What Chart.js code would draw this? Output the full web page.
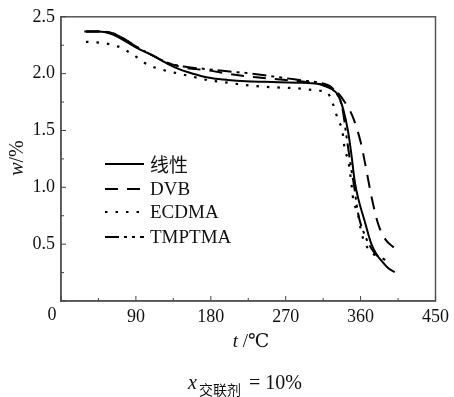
<!DOCTYPE html>
<html>
<head>
<meta charset="utf-8">
<script src="https://cdn.jsdelivr.net/npm/chart.js@4"></script>
<style>
  body { margin: 0; background: #fff; }
  #wrap { width: 454px; height: 397px; }
</style>
</head>
<body>
<div id="wrap"><canvas id="tg-chart" width="454" height="397"></canvas></div>
<script>
// Series: temperature (°C) and w (%)
const linearT = [28, 45, 60, 74, 90, 110, 130, 142, 154, 168, 182, 200, 222, 245, 261, 285, 301, 312, 321, 328, 333, 339, 345, 349, 353, 357, 365, 373, 380, 385, 393, 401];
const linearW = [2.37, 2.37, 2.35, 2.30, 2.23, 2.16, 2.08, 2.04, 2.01, 1.98, 1.96, 1.945, 1.933, 1.928, 1.925, 1.92, 1.916, 1.905, 1.88, 1.85, 1.81, 1.69, 1.49, 1.285, 1.05, 0.907, 0.70, 0.50, 0.40, 0.355, 0.29, 0.253];

const dvbT = [30, 45, 60, 75, 90, 110, 130, 150, 175, 200, 230, 260, 290, 315, 330, 340, 350, 360, 367, 373, 381, 390, 400];
const dvbW = [2.37, 2.37, 2.36, 2.31, 2.24, 2.16, 2.09, 2.05, 2.03, 2.00, 1.97, 1.95, 1.93, 1.90, 1.85, 1.76, 1.63, 1.40, 1.15, 0.92, 0.68, 0.54, 0.47];

const ecdmaT = [30, 49, 68, 86, 104, 124, 142, 160, 178, 196, 216, 235, 255, 273, 291, 309, 319, 327, 333, 338, 341, 345, 349, 351, 357, 361, 369, 378, 386];
const ecdmaW = [2.28, 2.27, 2.24, 2.17, 2.08, 2.03, 2.00, 1.97, 1.94, 1.925, 1.905, 1.89, 1.88, 1.875, 1.866, 1.85, 1.84, 1.73, 1.59, 1.50, 1.33, 1.24, 1.03, 0.90, 0.76, 0.60, 0.46, 0.40, 0.37];

const tmptmaT = [30, 45, 60, 75, 90, 110, 130, 150, 175, 200, 230, 260, 290, 310, 325, 333, 338, 343, 348, 352, 357, 365, 377, 390];
const tmptmaW = [2.37, 2.37, 2.36, 2.31, 2.24, 2.16, 2.09, 2.06, 2.04, 2.02, 2.00, 1.97, 1.94, 1.92, 1.88, 1.80, 1.70, 1.45, 1.20, 1.02, 0.77, 0.58, 0.42, 0.36];

const seriesNames = ['线性', 'DVB', 'ECDMA', 'TMPTMA'];
const xTicks = [0, 90, 180, 270, 360, 450];
const yTicks = [0.5, 1.0, 1.5, 2.0, 2.5];

const serif = '"Liberation Serif", "DejaVu Serif", "Noto Sans CJK SC", serif';
const cjk = '"Noto Sans CJK SC", "Liberation Serif", serif';

function toPoints(ts, ws) {
    return ts.map((t, i) => ({ x: t, y: ws[i] }));
}

// Inward tick marks, plot frame, legend and titles
const decorPlugin = {
    id: 'decor',
    afterDraw(chart) {
        const ctx = chart.ctx;
        const a = chart.chartArea;
        const xs = chart.scales.x;
        const ys = chart.scales.y;
        ctx.save();

        // frame
        ctx.strokeStyle = '#555';
        ctx.lineWidth = 1.5;
        ctx.strokeRect(a.left, a.top, a.right - a.left, a.bottom - a.top);

        // ticks pointing into the plot
        ctx.lineWidth = 1;
        ctx.strokeStyle = '#444';
        xs.ticks.forEach(t => {
            const px = xs.getPixelForValue(t.value);
            const len = t.value % 90 === 0 ? 5 : 3;
            ctx.beginPath();
            ctx.moveTo(px, a.bottom);
            ctx.lineTo(px, a.bottom - len);
            ctx.stroke();
        });
        ys.ticks.forEach(t => {
            const py = ys.getPixelForValue(t.value);
            const major = Math.abs(t.value * 2 - Math.round(t.value * 2)) < 1e-6;
            ctx.beginPath();
            ctx.moveTo(a.left, py);
            ctx.lineTo(a.left + (major ? 5 : 3), py);
            ctx.stroke();
        });

        // "0" label on x axis, shifted left of the corner
        ctx.fillStyle = '#111';
        ctx.font = '18px ' + serif;
        ctx.textAlign = 'center';
        ctx.textBaseline = 'top';
        ctx.fillText(String(xTicks[0]), xs.getPixelForValue(xTicks[0]) - 9, 306);

        // legend
        const rows = [164, 189, 212, 237];
        chart.data.datasets.forEach((ds, i) => {
            ctx.strokeStyle = '#000';
            ctx.lineWidth = 2.2;
            ctx.setLineDash(ds.borderDash || []);
            ctx.beginPath();
            ctx.moveTo(105, rows[i]);
            ctx.lineTo(144, rows[i]);
            ctx.stroke();
            ctx.setLineDash([]);
            ctx.fillStyle = '#111';
            ctx.textAlign = 'left';
            ctx.textBaseline = 'middle';
            ctx.font = (i === 0 ? '19px ' + cjk : '19px ' + serif);
            ctx.fillText(ds.label, 150, rows[i] + 1);
        });

        // x axis title: t/℃
        ctx.textBaseline = 'alphabetic';
        ctx.textAlign = 'left';
        ctx.font = 'italic 19px ' + serif;
        const tW = ctx.measureText('t').width;
        ctx.font = '19px ' + serif;
        const restW = ctx.measureText(' /℃').width;
        let x0 = 251 - (tW + restW) / 2;
        ctx.font = 'italic 19px ' + serif;
        ctx.fillText('t', x0, 347);
        ctx.font = '19px ' + serif;
        ctx.fillText(' /℃', x0 + tW, 347);

        // y axis title: w/%
        ctx.save();
        ctx.translate(23, 158);
        ctx.rotate(-Math.PI / 2);
        ctx.font = 'italic 20px ' + serif;
        const wW = ctx.measureText('w').width;
        ctx.font = '20px ' + serif;
        const pW = ctx.measureText('/%').width;
        ctx.textAlign = 'left';
        ctx.font = 'italic 20px ' + serif;
        ctx.fillText('w', -(wW + pW) / 2, 0);
        ctx.font = '20px ' + serif;
        ctx.fillText('/%', -(wW + pW) / 2 + wW, 0);
        ctx.restore();

        // caption: x交联剂 = 10%
        let cx = 188;
        ctx.font = 'italic 20px ' + serif;
        ctx.fillText('x', cx, 389);
        cx += ctx.measureText('x').width + 2;
        ctx.font = '14px ' + cjk;
        ctx.fillText('交联剂', cx, 395);
        cx += ctx.measureText('交联剂').width + 8;
        ctx.font = '20px ' + serif;
        ctx.fillText('= 10%', cx, 389);

        ctx.restore();
    }
};

new Chart(document.getElementById('tg-chart'), {
    type: 'line',
    data: {
        datasets: [
            {
                label: seriesNames[0],
                data: toPoints(linearT, linearW),
                borderColor: '#000',
                borderWidth: 2,
                borderDash: []
            },
            {
                label: seriesNames[1],
                data: toPoints(dvbT, dvbW),
                borderColor: '#000',
                borderWidth: 2,
                borderDash: [13, 9]
            },
            {
                label: seriesNames[2],
                data: toPoints(ecdmaT, ecdmaW),
                borderColor: '#000',
                borderWidth: 2.2,
                borderDash: [2.5, 8]
            },
            {
                label: seriesNames[3],
                data: toPoints(tmptmaT, tmptmaW),
                borderColor: '#000',
                borderWidth: 2,
                borderDash: [14, 5, 3, 5, 3, 5]
            }
        ]
    },
    options: {
        responsive: false,
        animation: false,
        devicePixelRatio: 1,
        layout: { padding: { top: 14, right: 16, left: 0, bottom: 0 } },
        elements: {
            point: { radius: 0 },
            line: { cubicInterpolationMode: 'monotone', fill: false }
        },
        scales: {
            x: {
                type: 'linear',
                min: xTicks[0],
                max: xTicks[xTicks.length - 1],
                grid: { display: false, drawTicks: false },
                border: { display: true, color: '#555', width: 1.5 },
                ticks: {
                    stepSize: 45,
                    autoSkip: false,
                    maxRotation: 0,
                    padding: 5,
                    color: '#111',
                    font: { family: serif, size: 18 },
                    callback: v => (xTicks.includes(v) && v !== xTicks[0]) ? String(v) : ''
                },
                afterFit: s => { s.height = 96; }
            },
            y: {
                min: 0,
                max: 2.5,
                grid: { display: false, drawTicks: false },
                border: { display: true, color: '#555', width: 1.5 },
                ticks: {
                    stepSize: 0.25,
                    autoSkip: false,
                    padding: 6,
                    color: '#111',
                    font: { family: serif, size: 18 },
                    callback: v => yTicks.some(t => Math.abs(t - v) < 1e-6) ? v.toFixed(1) : ''
                },
                afterFit: s => { s.width = 61; }
            }
        },
        plugins: {
            legend: { display: false },
            tooltip: { enabled: false }
        }
    },
    plugins: [decorPlugin]
});
</script>
</body>
</html>
